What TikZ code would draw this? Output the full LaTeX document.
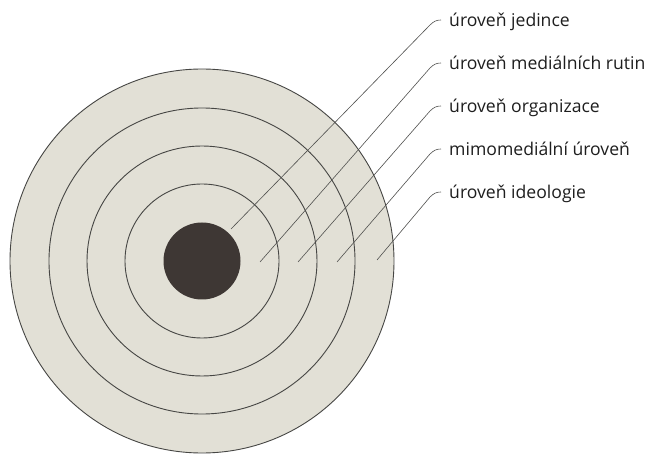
\documentclass[tikz,border=0pt]{standalone}
\usepackage{fontspec}
\setmainfont{Open Sans}
\begin{document}
\begin{tikzpicture}[x=1pt,y=-1pt,
  ring/.style={draw=ringline,line width=0.9pt},
  leader/.style={draw=leadline,line width=0.6pt},
  lab/.style={anchor=base west,inner sep=0pt,font=\fontsize{17.6}{20}\selectfont,text=labtext}]
\definecolor{disc}{RGB}{226,224,214}
\definecolor{ringline}{RGB}{70,70,68}
\definecolor{core}{RGB}{62,55,52}
\definecolor{leadline}{RGB}{80,80,78}
\definecolor{labtext}{RGB}{30,30,30}
\useasboundingbox (0,0) rectangle (651,457);
\fill[white] (0,0) rectangle (651,457);
\coordinate (c) at (202,261);
\fill[disc] (c) circle (192);
\draw[ring] (c) circle (192);
\draw[ring] (c) circle (153);
\draw[ring] (c) circle (115);
\draw[ring] (c) circle (77);
\fill[core] (c) circle (38.5);
% labels
\node[lab] (l1) at (449,27) {úroveň jedince};
\node[lab] (l2) at (449,70) {úroveň mediálních rutin};
\node[lab] (l3) at (449,113) {úroveň organizace};
\node[lab] (l4) at (449,156) {mimomediální úroveň};
\node[lab] (l5) at (449,199) {úroveň ideologie};
% leader ends
\coordinate (e1) at (231,229);
\coordinate (e2) at (260,262);
\coordinate (e3) at (298,262);
\coordinate (e4) at (337,262);
\coordinate (e5) at (377,260);
\draw[leader] (e1) -- (430,25) .. controls (434,21) and (437,20) .. ([xshift=-8pt,yshift=7pt]l1.base west);
\draw[leader] (e2) -- (430,68) .. controls (434,64) and (437,63) .. ([xshift=-8pt,yshift=7pt]l2.base west);
\draw[leader] (e3) -- (430,111) .. controls (434,107) and (437,106) .. ([xshift=-8pt,yshift=7pt]l3.base west);
\draw[leader] (e4) -- (430,154) .. controls (434,150) and (437,149) .. ([xshift=-8pt,yshift=7pt]l4.base west);
\draw[leader] (e5) -- (430,197) .. controls (434,193) and (437,192) .. ([xshift=-8pt,yshift=7pt]l5.base west);
\end{tikzpicture}
\end{document}
